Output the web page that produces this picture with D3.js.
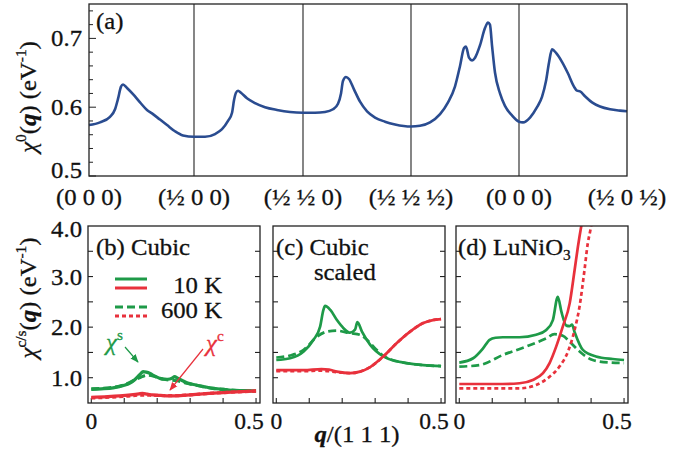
<!DOCTYPE html>
<html><head><meta charset="utf-8">
<script src="https://cdn.jsdelivr.net/npm/d3@7"></script>
<style>
body{margin:0;background:#fff}
svg{display:block}
text{font-family:"Liberation Serif","Times New Roman",serif;fill:#111}
</style>
</head><body>
<svg id="chart" width="685" height="463"></svg>
<script>
// ---------------- DATA ----------------
// Panel (a): chi0 along the high-symmetry path
const pathTicks = [0, 1, 2, 3, 4, 5];
const pathLabels = ["(0 0 0)", "(½ 0 0)", "(½ ½ 0)", "(½ ½ ½)", "(0 0 0)", "(½ 0 ½)"];
const chi0Ticks = [0.5, 0.6, 0.7];
const chi0Pos = [0,0.105,0.2,0.248,0.276,0.305,0.324,0.362,0.419,0.486,0.552,0.6,0.676,0.743,0.819,0.895,1,
  1.101,1.193,1.257,1.312,1.349,1.367,1.385,1.404,1.431,1.486,1.56,1.651,1.761,1.881,2,
  2.111,2.204,2.278,2.324,2.352,2.370,2.398,2.426,2.472,2.528,2.593,2.667,2.759,2.852,3,
  3.083,3.176,3.269,3.343,3.407,3.454,3.491,3.509,3.537,3.565,3.593,3.639,3.685,3.713,3.731,3.75,3.778,3.824,3.870,3.935,4,
  4.037,4.102,4.167,4.213,4.25,4.278,4.306,4.343,4.398,4.454,4.509,4.537,4.565,4.611,4.676,4.75,4.843,4.935,5];
const chi0Val = [0.574,0.578,0.586,0.597,0.612,0.630,0.633,0.628,0.619,0.607,0.596,0.591,0.582,0.574,0.565,0.559,0.557,
  0.557,0.561,0.568,0.580,0.592,0.610,0.621,0.624,0.621,0.613,0.606,0.600,0.596,0.593,0.592,
  0.592,0.593,0.597,0.605,0.620,0.638,0.644,0.641,0.626,0.608,0.594,0.585,0.579,0.575,0.572,
  0.573,0.578,0.590,0.607,0.630,0.660,0.686,0.688,0.672,0.668,0.672,0.690,0.715,0.723,0.720,0.690,0.650,0.620,0.602,0.588,0.579,
  0.578,0.585,0.600,0.615,0.638,0.665,0.684,0.679,0.666,0.649,0.630,0.624,0.623,0.616,0.607,0.601,0.597,0.595,0.594];

// Panels (b)-(d): chi^s (green) and chi^c (red), 10 K solid, 600 K dashed/dotted
const qTicks = [0, 0.1, 0.2, 0.3, 0.4, 0.5];
const qTickLabels = [0, 0.5];
const chiTicks = [1.0, 1.5, 2.0, 2.5, 3.0, 3.5];
const chiTickLabels = [1.0, 2.0, 3.0, 4.0];

// (b) Cubic
const bS10Q = [0,0.03,0.066,0.1,0.116,0.13,0.141,0.15,0.157,0.167,0.177,0.19,0.207,0.22,0.232,0.245,0.253,0.262,0.273,0.29,0.318,0.345,0.369,0.4,0.419,0.46,0.5];
const bS10V = [0.77,0.78,0.80,0.85,0.89,0.95,1.02,1.08,1.12,1.11,1.09,1.04,0.99,0.97,0.97,0.99,1.02,0.99,0.955,0.90,0.856,0.82,0.79,0.77,0.757,0.745,0.74];
const bS600Q = [0,0.066,0.1,0.13,0.15,0.17,0.19,0.207,0.23,0.26,0.29,0.318,0.369,0.42,0.5];
const bS600V = [0.78,0.81,0.86,0.95,1.01,1.05,1.03,0.99,0.96,0.94,0.89,0.85,0.79,0.757,0.74];
const bC10Q = [0,0.05,0.086,0.12,0.145,0.155,0.17,0.187,0.21,0.237,0.27,0.3,0.338,0.4,0.44,0.5];
const bC10V = [0.61,0.625,0.64,0.66,0.68,0.69,0.675,0.66,0.65,0.64,0.645,0.66,0.68,0.705,0.72,0.74];
const bC600Q = [0,0.1,0.15,0.2,0.25,0.3,0.35,0.4,0.5];
const bC600V = [0.60,0.63,0.655,0.65,0.645,0.66,0.685,0.705,0.735];

// (c) Cubic scaled
const cS10Q = [0,0.042,0.083,0.113,0.133,0.143,0.148,0.164,0.184,0.204,0.224,0.239,0.246,0.26,0.285,0.325,0.36,0.386,0.446,0.5];
const cS10V = [1.35,1.385,1.52,1.75,2.01,2.34,2.42,2.34,2.14,1.98,1.89,1.95,2.10,1.91,1.65,1.42,1.33,1.30,1.25,1.23];
const cS600Q = [0,0.042,0.083,0.123,0.153,0.184,0.224,0.254,0.275,0.3,0.325,0.386,0.446,0.5];
const cS600V = [1.40,1.44,1.55,1.81,1.91,1.93,1.88,1.85,1.75,1.58,1.43,1.30,1.25,1.23];
const cC10Q = [0,0.083,0.137,0.16,0.184,0.224,0.254,0.285,0.325,0.365,0.406,0.446,0.475,0.5];
const cC10V = [1.15,1.15,1.17,1.16,1.12,1.09,1.12,1.21,1.42,1.68,1.91,2.08,2.14,2.16];
const cC600Q = [0,0.083,0.137,0.17,0.2,0.224,0.254,0.285,0.325,0.365,0.406,0.446,0.475,0.5];
const cC600V = [1.13,1.13,1.14,1.12,1.10,1.09,1.12,1.21,1.42,1.68,1.91,2.08,2.14,2.16];

// (d) LuNiO3
const dS10Q = [0,0.042,0.072,0.092,0.11,0.132,0.183,0.233,0.264,0.284,0.299,0.31,0.325,0.335,0.342,0.35,0.375,0.415,0.466,0.5];
const dS10V = [1.30,1.385,1.58,1.75,1.79,1.80,1.80,1.85,1.945,2.14,2.60,2.30,2.03,2.02,2.05,1.90,1.55,1.42,1.37,1.35];
const dS600Q = [0,0.062,0.132,0.203,0.264,0.289,0.314,0.335,0.365,0.405,0.456,0.5];
const dS600V = [1.22,1.25,1.45,1.615,1.78,1.86,1.83,1.71,1.52,1.35,1.30,1.29];
const dC10Q = [0,0.132,0.183,0.223,0.254,0.274,0.294,0.314,0.335,0.35,0.36,0.37,0.376];
const dC10V = [0.876,0.876,0.89,0.955,1.09,1.29,1.615,2.01,2.47,3.13,3.59,3.99,4.2];
const dC600Q = [0,0.183,0.233,0.274,0.304,0.33,0.35,0.365,0.38,0.39,0.397,0.403];
const dC600V = [0.79,0.79,0.856,1.02,1.22,1.52,1.945,2.41,3.13,3.66,3.89,4.1];

// ---------------- DRAW ----------------
const GREEN = "#1e9a48", RED = "#e8313c", BLUE = "#2a4c90", INK = "#222";
const FS = 24, SX = 1.03;
const svg = d3.select("#chart");

function rich(x, y, parts, opt = {}) {
  const size = opt.size || FS;
  let tr = `translate(${x},${y})`;
  if (opt.rotate) tr += ` rotate(${opt.rotate})`;
  tr += ` scale(${opt.sx || SX},1)`;
  const col = opt.fill || "#111";
  const t = svg.append("text").attr("transform", tr)
    .attr("font-size", size).attr("text-anchor", opt.anchor || "start")
    .style("fill", col).style("stroke", col).style("stroke-width", 0.3);
  let shift = 0;
  parts.forEach(p => {
    const [s, o] = Array.isArray(p) ? [p[0], p[1] || {}] : [p, {}];
    const ts = t.append("tspan").text(s);
    const target = o.sup ? -size * 0.4 : o.sub ? size * 0.22 : 0;
    if (target - shift !== 0) ts.attr("dy", target - shift);
    shift = target;
    if (o.sup || o.sub) ts.attr("font-size", size * 0.62);
    if (o.bold) ts.attr("font-weight", "bold");
    if (o.italic) ts.attr("font-style", "italic");
  });
  return t;
}
const CHI = ["χ", {italic: 1}];

// ---- Panel (a)
const A = {l: 89, r: 627, t: 4, b: 176};
const xa = d3.scaleLinear().domain(pathTicks).range([89, 194, 303, 411, 519, 627]);
const ya = d3.scaleLinear().domain([0.5, 0.75]).range([A.b, A.t]);

const aMinor = d3.range(0.52, 0.7401, 0.02).filter(v => chi0Ticks.every(m => Math.abs(m - v) > 1e-6));
svg.append("g").selectAll("line").data(aMinor).join("line")
  .attr("x1", A.l).attr("x2", A.l + 4).attr("y1", d => ya(d)).attr("y2", d => ya(d))
  .attr("stroke", INK).attr("stroke-width", 1);
svg.append("g").selectAll("line").data(chi0Ticks).join("line")
  .attr("x1", A.l).attr("x2", A.l + 7).attr("y1", d => ya(d)).attr("y2", d => ya(d))
  .attr("stroke", INK).attr("stroke-width", 1);
svg.append("g").selectAll("line").data(pathTicks.slice(1, -1)).join("line")
  .attr("x1", d => xa(d)).attr("x2", d => xa(d)).attr("y1", A.t).attr("y2", A.b)
  .attr("stroke", INK).attr("stroke-width", 1.1);
svg.append("path")
  .datum(chi0Pos.map((p, i) => [p, chi0Val[i]]))
  .attr("fill", "none").attr("stroke", BLUE).attr("stroke-width", 2.6)
  .attr("stroke-linejoin", "round")
  .attr("d", d3.line().x(d => xa(d[0])).y(d => ya(d[1])).curve(d3.curveMonotoneX));
svg.append("rect").attr("x", A.l).attr("y", A.t).attr("width", A.r - A.l).attr("height", A.b - A.t)
  .attr("fill", "none").attr("stroke", INK).attr("stroke-width", 1.3);
chi0Ticks.forEach((v, i) => {
  rich(82, ya(v) + 8 - (i === 0 ? 6 : 0), [d3.format(".1f")(v)], {anchor: "end"});
});
pathTicks.forEach((p, i) => rich(xa(p), 205, [pathLabels[i]], {anchor: "middle"}));
rich(96, 29, ["(a)"]);
rich(36, 97, [CHI, ["0", {sup: 1}], "(", ["q", {bold: 1, italic: 1}], ") (eV", ["-1", {sup: 1}], ")"],
  {anchor: "middle", rotate: -90});

// ---- Panels (b)-(d)
const PT = 226, PB = 403, PW = 172;
const yb = d3.scaleLinear().domain([0.5, 4.0]).range([PB, PT]);
const panels = [
  {l: 88, series: [
    {q: bS10Q, v: bS10V, c: GREEN, dash: null, w: 3.2},
    {q: bS600Q, v: bS600V, c: GREEN, dash: "8,4", w: 3.2},
    {q: bC10Q, v: bC10V, c: RED, dash: null, w: 3.2},
    {q: bC600Q, v: bC600V, c: RED, dash: "4,3", w: 3.2}]},
  {l: 273, series: [
    {q: cS10Q, v: cS10V, c: GREEN, dash: null, w: 2.7},
    {q: cS600Q, v: cS600V, c: GREEN, dash: "8,4", w: 2.7},
    {q: cC10Q, v: cC10V, c: RED, dash: null, w: 2.7},
    {q: cC600Q, v: cC600V, c: RED, dash: "4,3", w: 2.7}]},
  {l: 456, series: [
    {q: dS10Q, v: dS10V, c: GREEN, dash: null, w: 2.7},
    {q: dS600Q, v: dS600V, c: GREEN, dash: "8,4", w: 2.7},
    {q: dC10Q, v: dC10V, c: RED, dash: null, w: 2.7},
    {q: dC600Q, v: dC600V, c: RED, dash: "4,3", w: 2.7}]}
];

panels.forEach((P, pi) => {
  const xb = d3.scaleLinear().domain([-0.01, 0.512]).range([P.l, P.l + PW]);
  const g = svg.append("g");
  const cid = "clip" + pi;
  svg.append("clipPath").attr("id", cid).append("rect")
    .attr("x", P.l).attr("y", PT).attr("width", PW).attr("height", PB - PT);
  g.selectAll(".yl").data(chiTicks).join("line").attr("class", "yl")
    .attr("x1", P.l).attr("x2", P.l + 5).attr("y1", d => yb(d)).attr("y2", d => yb(d))
    .attr("stroke", INK).attr("stroke-width", 1.1);
  g.selectAll(".yr").data(chiTicks).join("line").attr("class", "yr")
    .attr("x1", P.l + PW).attr("x2", P.l + PW - 5).attr("y1", d => yb(d)).attr("y2", d => yb(d))
    .attr("stroke", INK).attr("stroke-width", 1.1);
  g.selectAll(".xt").data(qTicks).join("line").attr("class", "xt")
    .attr("x1", d => xb(d)).attr("x2", d => xb(d)).attr("y1", PB).attr("y2", PB - 5)
    .attr("stroke", INK).attr("stroke-width", 1.1);
  const line = d3.line().x(d => xb(d[0])).y(d => yb(d[1])).curve(d3.curveMonotoneX);
  P.series.forEach(s => {
    g.append("path").datum(s.q.map((q, i) => [q, s.v[i]]))
      .attr("clip-path", `url(#${cid})`)
      .attr("fill", "none").attr("stroke", s.c).attr("stroke-width", s.w)
      .attr("stroke-dasharray", s.dash).attr("d", line);
  });
  g.append("rect").attr("x", P.l).attr("y", PT).attr("width", PW).attr("height", PB - PT)
    .attr("fill", "none").attr("stroke", INK).attr("stroke-width", 1.3);
  qTickLabels.forEach(v => rich(xb(v) + (v === 0 ? 0 : -7), 429, [v === 0 ? "0" : "0.5"],
    {anchor: "middle", sx: 0.98}));
});

chiTickLabels.forEach(v => rich(82, yb(v) + 8 + (v === 4 ? 3 : 0), [d3.format(".1f")(v)], {anchor: "end"}));
rich(36, 298, [CHI, ["c/s", {sup: 1}], "(", ["q", {bold: 1, italic: 1}], ") (eV", ["-1", {sup: 1}], ")"],
  {anchor: "middle", rotate: -90});
rich(357, 442, [["q", {bold: 1, italic: 1}], "/(1 1 1)"], {anchor: "middle"});

// panel labels
rich(96, 255, ["(b) Cubic"]);
rich(276, 255, ["(c) Cubic"]);
rich(314, 280, ["scaled"]);
rich(458, 255, ["(d) LuNiO", ["3", {sub: 1}]]);

// legend in (b)
const leg = [
  {y: 279, c: GREEN, dash: null}, {y: 288, c: RED, dash: null},
  {y: 307, c: GREEN, dash: "8,4"}, {y: 316, c: RED, dash: "4,3"}];
svg.append("g").selectAll("line").data(leg).join("line")
  .attr("x1", 115).attr("x2", 147).attr("y1", d => d.y).attr("y2", d => d.y)
  .attr("stroke", d => d.c).attr("stroke-width", 3).attr("stroke-dasharray", d => d.dash);
rich(222, 293, ["10 K"], {anchor: "end"});
rich(222, 318, ["600 K"], {anchor: "end"});

// annotations
const defs = svg.append("defs");
[["ag", GREEN], ["ar", RED]].forEach(([id, c]) => {
  defs.append("marker").attr("id", id).attr("viewBox", "0 0 10 10").attr("refX", 9).attr("refY", 5)
    .attr("markerWidth", 7).attr("markerHeight", 7).attr("orient", "auto")
    .append("path").attr("d", "M0,1 L10,5 L0,9 Z").attr("fill", c);
});
rich(106, 350, [CHI, ["s", {sup: 1}]], {fill: GREEN});
svg.append("line").attr("x1", 125).attr("y1", 347).attr("x2", 138).attr("y2", 362)
  .attr("stroke", GREEN).attr("stroke-width", 1.2).attr("marker-end", "url(#ag)");
rich(206, 351, [CHI, ["c", {sup: 1}]], {fill: RED});
svg.append("line").attr("x1", 203).attr("y1", 349).attr("x2", 170).attr("y2", 390)
  .attr("stroke", RED).attr("stroke-width", 1.2).attr("marker-end", "url(#ar)");
</script>
</body></html>
